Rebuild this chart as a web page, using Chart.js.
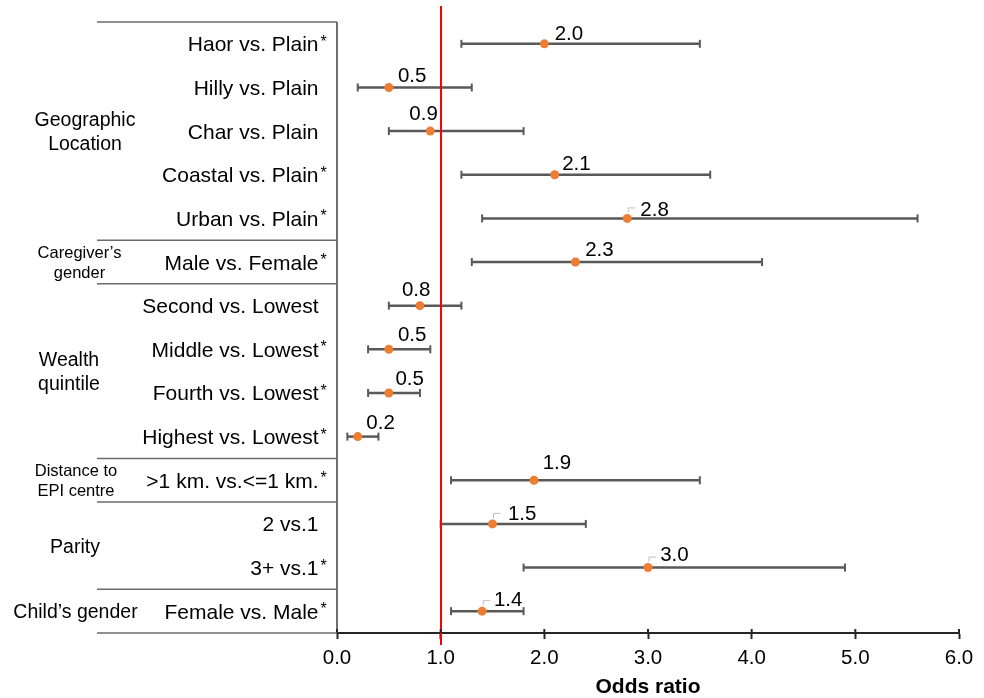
<!DOCTYPE html>
<html>
<head>
<meta charset="utf-8">
<script src="https://cdn.jsdelivr.net/npm/chart.js@4.4.1/dist/chart.umd.min.js"></script>
<style>
html,body{margin:0;padding:0;background:#fff;}
#wrap{width:984px;height:698px;}
</style>
</head>
<body>
<div id="wrap"><canvas id="c" width="984" height="698"></canvas></div>
<script>
// ---- data ----
const categories = ['Haor vs. Plain','Hilly vs. Plain','Char vs. Plain','Coastal vs. Plain','Urban vs. Plain',
  'Male vs. Female','Second vs. Lowest','Middle vs. Lowest','Fourth vs. Lowest','Highest vs. Lowest',
  '>1 km. vs.<=1 km.','2 vs.1','3+ vs.1','Female vs. Male'];
const significant = [true,false,false,true,true,true,false,true,true,true,true,false,true,true];
const oddsRatio = [2.0,0.5,0.9,2.1,2.8,2.3,0.8,0.5,0.5,0.2,1.9,1.5,3.0,1.4];
const ciLower   = [1.2,0.2,0.5,1.2,1.4,1.3,0.5,0.3,0.3,0.1,1.1,1.0,1.8,1.1];
const ciUpper   = [3.5,1.3,1.8,3.6,5.6,4.1,1.2,0.9,0.8,0.4,3.5,2.4,4.9,1.8];
const groupLabels = ['Geographic\nLocation','Caregiver\u2019s\ngender','Wealth\nquintile','Distance to\nEPI centre','Parity','Child\u2019s gender'];
const groupSizes = [5,1,4,1,2,1];
const xTicks = [0,1,2,3,4,5,6];
const referenceValue = 1;
const axisTitle = 'Odds ratio';

// ---- layout / style (not data) ----
const FONT = '"Liberation Sans", Arial, Helvetica, sans-serif';
const groupSmall = [false,true,false,true,false,false];
const groupCenterX = [85,79.5,69,76,75,75.5];
const labelOffsets = [[24.6,-11],[23.3,-12.7],[-6.7,-18],[21.7,-12.2],[27.3,-9.8],[24,-13],[-3.8,-16.2],
  [23.3,-15.5],[20.8,-15],[22.8,-14.5],[23,-17.8],[29.7,-10.7],[26.4,-13.3],[26,-12]];
const leaderRows = [4,11,12,13];

const forestPlugin = {
  id: 'forest',
  beforeDatasetsDraw(chart) {
    const {ctx, scales:{x, y}} = chart;
    ctx.save();
    ctx.strokeStyle = '#595959';
    categories.forEach((c, i) => {
      const yy = y.getPixelForValue(i);
      const x1 = x.getPixelForValue(ciLower[i]);
      const x2 = x.getPixelForValue(ciUpper[i]);
      ctx.lineWidth = 2.5;
      ctx.beginPath(); ctx.moveTo(x1, yy); ctx.lineTo(x2, yy); ctx.stroke();
      ctx.lineWidth = 2;
      [x1, x2].forEach(xx => {
        ctx.beginPath(); ctx.moveTo(xx, yy - 4); ctx.lineTo(xx, yy + 4); ctx.stroke();
      });
    });
    ctx.restore();
  },
  afterDatasetsDraw(chart) {
    const {ctx, scales:{x, y}} = chart;
    ctx.save();
    // reference line
    const rx = Math.round(x.getPixelForValue(referenceValue));
    ctx.strokeStyle = '#FF0000';
    ctx.lineWidth = 2;
    ctx.beginPath(); ctx.moveTo(rx, 6); ctx.lineTo(rx, 645); ctx.stroke();
    // leaders
    ctx.strokeStyle = '#bfbfbf';
    ctx.lineWidth = 1;
    leaderRows.forEach(i => {
      const px = x.getPixelForValue(oddsRatio[i]);
      const py = y.getPixelForValue(i);
      ctx.beginPath(); ctx.moveTo(px + 1, py - 6); ctx.lineTo(px + 1, py - 10.5); ctx.lineTo(px + 8, py - 10.5); ctx.stroke();
    });
    // value labels
    ctx.font = '20.5px ' + FONT;
    ctx.fillStyle = '#000';
    ctx.textAlign = 'center';
    ctx.textBaseline = 'alphabetic';
    categories.forEach((c, i) => {
      const px = x.getPixelForValue(oddsRatio[i]);
      const py = y.getPixelForValue(i);
      const o = labelOffsets[i];
      ctx.fillText(oddsRatio[i].toFixed(1), px + o[0], py + o[1] + 7);
    });
    ctx.restore();
  },
  afterDraw(chart) {
    const {ctx, chartArea, scales:{x, y}} = chart;
    ctx.save();
    const band = y.getPixelForValue(1) - y.getPixelForValue(0);
    // left frame vertical line
    ctx.strokeStyle = '#404040';
    ctx.lineWidth = 1.5;
    ctx.beginPath(); ctx.moveTo(chartArea.left, chartArea.top); ctx.lineTo(chartArea.left, chartArea.bottom); ctx.stroke();
    // tick stubs above axis
    ctx.strokeStyle = '#262626';
    ctx.lineWidth = 2;
    xTicks.forEach(v => {
      const px = x.getPixelForValue(v);
      ctx.beginPath(); ctx.moveTo(px, chartArea.bottom - 4); ctx.lineTo(px, chartArea.bottom); ctx.stroke();
    });
    // row labels
    ctx.fillStyle = '#000';
    ctx.textBaseline = 'alphabetic';
    categories.forEach((c, i) => {
      const yy = y.getPixelForValue(i);
      ctx.font = '21px ' + FONT;
      ctx.textAlign = 'right';
      ctx.fillText(c, 318.5, yy + 7.5);
      if (significant[i]) {
        ctx.font = '16px ' + FONT;
        ctx.textAlign = 'left';
        ctx.fillText('*', 320.5, yy + 3);
      }
    });
    // group labels and separators
    ctx.strokeStyle = '#6b6b6b';
    ctx.lineWidth = 1.5;
    let start = 0;
    const topY = y.getPixelForValue(0) - band / 2;
    ctx.beginPath(); ctx.moveTo(97, topY); ctx.lineTo(chartArea.left, topY); ctx.stroke();
    groupLabels.forEach((g, gi) => {
      const end = start + groupSizes[gi] - 1;
      const cy = (y.getPixelForValue(start) + y.getPixelForValue(end)) / 2;
      const lines = g.split('\n');
      const fs = groupSmall[gi] ? 16.5 : 19.5;
      const lh = groupSmall[gi] ? 19.5 : 23.5;
      ctx.font = fs + 'px ' + FONT;
      ctx.textAlign = 'center';
      lines.forEach((ln, li) => {
        const ly = cy + (li - (lines.length - 1) / 2) * lh;
        ctx.fillText(ln, groupCenterX[gi], ly + 0.358 * fs);
      });
      const by = y.getPixelForValue(end) + band / 2;
      ctx.beginPath(); ctx.moveTo(97, by); ctx.lineTo(chartArea.left, by); ctx.stroke();
      start = end + 1;
    });
    ctx.restore();
  }
};

new Chart(document.getElementById('c'), {
  type: 'scatter',
  data: {
    labels: categories,
    datasets: [{
      data: categories.map((c, i) => ({x: oddsRatio[i], y: c})),
      backgroundColor: '#ED7D31',
      borderWidth: 0,
      pointRadius: 4.5,
      pointHoverRadius: 4.5,
      showLine: false
    }]
  },
  options: {
    responsive: false,
    devicePixelRatio: 1,
    animation: false,
    events: [],
    layout: { padding: { left: 337, right: 25, top: 22, bottom: 0 } },
    plugins: { legend: { display: false }, tooltip: { enabled: false } },
    scales: {
      x: {
        type: 'linear',
        min: 0, max: 6,
        afterBuildTicks: s => { s.ticks = xTicks.map(v => ({value: v})); },
        afterFit: s => { s.height = 65; },
        ticks: {
          callback: v => Number(v).toFixed(1),
          font: { family: FONT, size: 20.5 },
          color: '#000',
          padding: 7,
          maxRotation: 0,
          autoSkip: false
        },
        grid: { drawOnChartArea: false, drawTicks: true, tickLength: 6, tickColor: '#262626', tickWidth: 2, color: '#262626' },
        border: { display: true, color: '#262626', width: 2 },
        title: { display: true, text: axisTitle, font: { family: FONT, size: 21, weight: 'bold', lineHeight: 1.0 }, color: '#000', padding: { top: 0, bottom: 0 } }
      },
      y: {
        type: 'category',
        labels: categories,
        offset: true,
        display: false,
        grid: { display: false }
      }
    }
  },
  plugins: [forestPlugin]
});
</script>
</body>
</html>
